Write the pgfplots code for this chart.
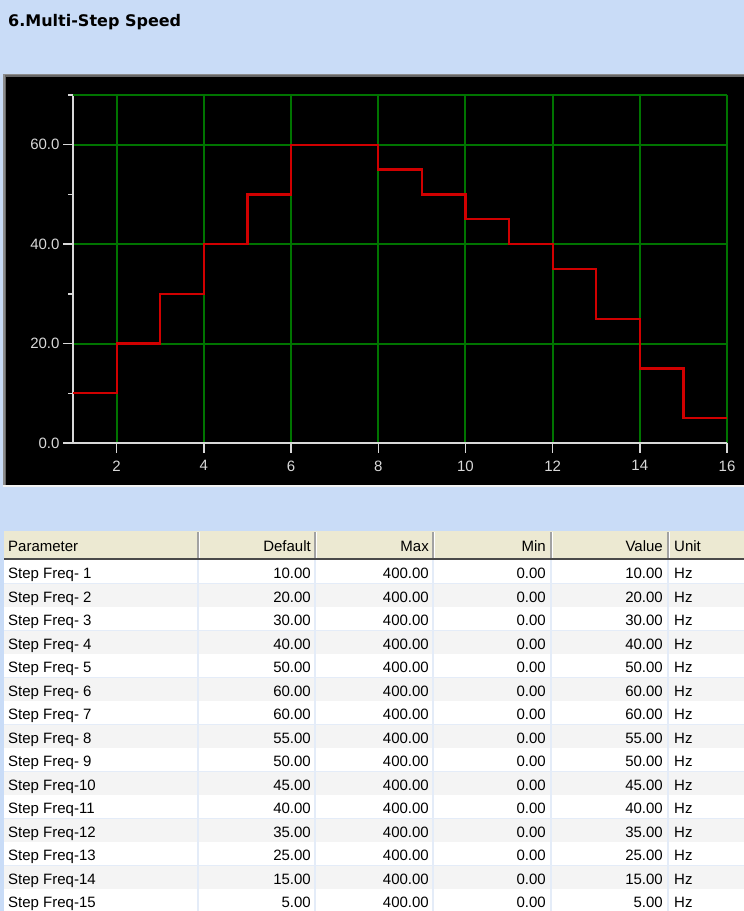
\documentclass[border=0pt]{standalone}
\usepackage{pgfplots}
\pgfplotsset{compat=1.18}
\usepackage{fontspec}
\setmainfont{Liberation Sans}
\newfontfamily\titlefont{DejaVu Sans}
\definecolor{bgblue}{HTML}{C9DCF7}
\definecolor{gridgreen}{HTML}{007400}
\definecolor{stepred}{HTML}{D00000}
\definecolor{axgray}{HTML}{D8D8D8}
\definecolor{hdr}{HTML}{ECE9D2}
\definecolor{hdrline}{HTML}{4A4A4A}
\definecolor{hdrsep}{HTML}{A2A2A2}
\definecolor{rowgray}{HTML}{F4F4F4}
\definecolor{rowline}{HTML}{E4ECF8}
\begin{document}
\begin{tikzpicture}[x=1pt,y=1pt]
\path[use as bounding box] (0,0) rectangle (744,911);
\clip (0,0) rectangle (744,911);
\fill[bgblue] (0,0) rectangle (744,911);
% title
\node[anchor=base west, inner sep=0pt, font=\titlefont\bfseries\fontsize{16}{16}\selectfont] at (8,{911-27}) {6.Multi-Step Speed};
% chart panel
\fill[black!45] (3,{911-74}) rectangle (744,{911-486});
\fill[black!60] (4.5,{911-75.5}) rectangle (744,{911-485});
\fill[black] (6,{911-77}) rectangle (744,{911-485});
\fill[white!95!black] (3,{911-485}) rectangle (744,{911-487});
\begin{axis}[
  at={(73pt,468pt)}, anchor=south west,
  scale only axis, width=654pt, height=348pt,
  xmin=1, xmax=16, ymin=0, ymax=70,
  axis x line*=bottom, axis y line*=left,
  axis line style={axgray, line width=1.4pt},
  xtick={2,4,...,16}, ytick={0,20,40,60}, minor ytick={10,30,50},
  extra y ticks={70}, extra y tick labels={},
  extra y tick style={major tick length=5pt, grid=major},
  tick align=outside, major tick length=10pt, minor tick length=5pt,
  tick style={axgray, line width=1.4pt},
  grid=major, major grid style={gridgreen, line width=2pt},
  /pgf/number format/assume math mode=true,
  ticklabel style={font=\fontsize{15}{15}\selectfont, text=axgray},
  yticklabel style={/pgf/number format/.cd, fixed, fixed zerofill, precision=1, assume math mode=true},
  xticklabel style={yshift=-4pt},
  clip=false,
]
\addplot[const plot, stepred, line width=2.2pt] coordinates {
 (1,10) (2,20) (3,30) (4,40) (5,50) (6,60) (7,60) (8,55) (9,50) (10,45) (11,40) (12,35) (13,25) (14,15) (15,5) (16,5)};
\end{axis}
% table header
\fill[hdr] (4,{911-531}) rectangle (744,{911-558});
\fill[hdrline] (4,{911-558}) rectangle (744,{911-560.5});
\foreach \cx in {197,314,432,550,667}{
  \fill[hdrsep] (\cx,{911-532}) rectangle ({\cx+1.6},{911-558});
  \fill[white] ({\cx+1.6},{911-532}) rectangle ({\cx+2.6},{911-558});
}
\begin{scope}[every node/.style={font=\fontsize{15}{15}\selectfont, inner sep=0pt}]
\node[anchor=base west] at (8,{911-552}) {Parameter};
\node[anchor=base east] at (311,{911-552}) {Default};
\node[anchor=base east] at (429,{911-552}) {Max};
\node[anchor=base east] at (546,{911-552}) {Min};
\node[anchor=base east] at (663,{911-552}) {Value};
\node[anchor=base west] at (674,{911-552}) {Unit};
\foreach \i/\n/\v in {1/~1/10.00, 2/~2/20.00, 3/~3/30.00, 4/~4/40.00, 5/~5/50.00, 6/~6/60.00, 7/~7/60.00, 8/~8/55.00, 9/~9/50.00, 10/10/45.00, 11/11/40.00, 12/12/35.00, 13/13/25.00, 14/14/15.00, 15/15/5.00}{
  \pgfmathsetmacro\yt{911-(560.5+(\i-1)*23.47)}
  \pgfmathsetmacro\yb{\yt-23.47}
  \pgfmathsetmacro\ybase{911-(579+(\i-1)*23.47)}
  \ifodd\i
    \fill[white] (4,\yt) rectangle (744,\yb);
  \else
    \fill[rowgray] (4,\yt) rectangle (744,\yb);
  \fi
  \fill[rowline] (4,{\yb+0.5}) rectangle (744,{\yb-0.5});
  \node[anchor=base west] at (8,\ybase) {Step Freq-\n};
  \node[anchor=base east] at (311,\ybase) {\v};
  \node[anchor=base east] at (429,\ybase) {400.00};
  \node[anchor=base east] at (546,\ybase) {0.00};
  \node[anchor=base east] at (663,\ybase) {\v};
  \node[anchor=base west] at (674,\ybase) {Hz};
}
\end{scope}
\foreach \cx in {198,315,433,551,668}{
  \fill[rowline] ({\cx-0.6},{911-560.5}) rectangle ({\cx+0.6},0);
}
\end{tikzpicture}
\end{document}
